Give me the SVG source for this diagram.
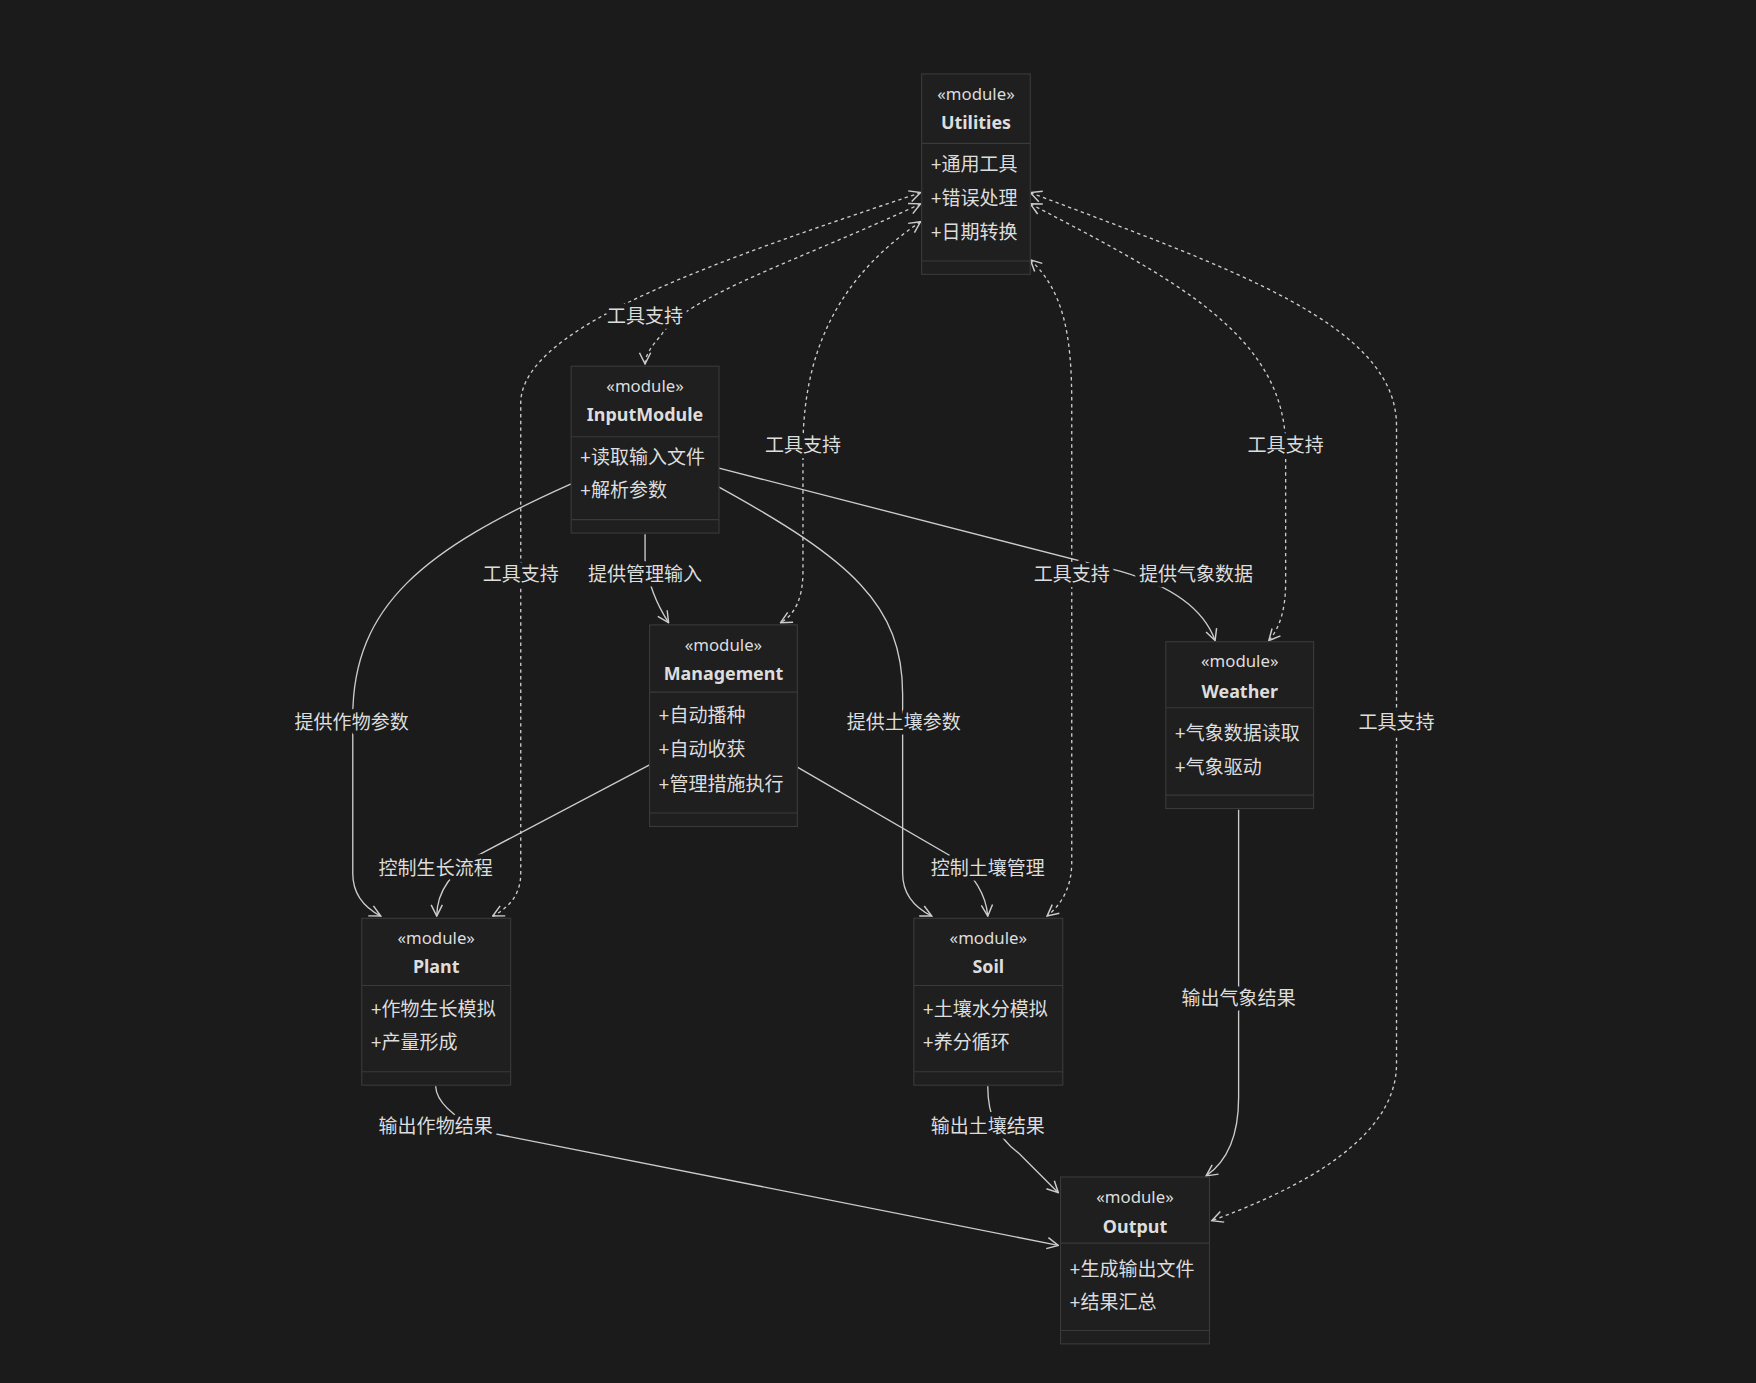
<svg xmlns="http://www.w3.org/2000/svg" width="1756" height="1383" viewBox="0 0 1756 1383">
<defs>
<style>
.bg{fill:#1b1b1b}
.box rect{fill:#1f1f1f;stroke:#3a3a3a;stroke-width:1}
.box line{stroke:#3a3a3a;stroke-width:1}
text{font-family:"Noto Sans","Noto Sans CJK SC",sans-serif;fill:#dddddd}
.st{font-size:15px;text-anchor:middle}
.ti{font-size:16px;font-weight:bold;text-anchor:middle}
.me{font-size:17px}
.e{fill:none;stroke:#cccccc;stroke-width:1.2}
.d{stroke-dasharray:3 3}
.lb{font-size:17px;text-anchor:middle;stroke:#1b1b1b;stroke-width:8;paint-order:stroke;stroke-linejoin:round}
</style>
<marker id="a" viewBox="0 0 12 12" refX="11" refY="6" markerWidth="12" markerHeight="12" orient="auto-start-reverse" markerUnits="userSpaceOnUse">
<path d="M1,1 L11,6 L1,11" fill="none" stroke="#cccccc" stroke-width="1.3"/>
</marker>
</defs>
<rect class="bg" width="1756" height="1383"/>
<g transform="scale(1.1199)">
<g id="connectors">
<path class="e d" marker-start="url(#a)" marker-end="url(#a)" d="M822,182 C720,230 610,265 590,300 Q576,315 576,325"/>
<path class="e d" marker-start="url(#a)" marker-end="url(#a)" d="M822,172 C650,230 465,290 465,360 L465,780 Q465,805 440,818"/>
<path class="e d" marker-start="url(#a)" marker-end="url(#a)" d="M822,198 C760,240 717,300 717,400 L717,510 Q717,545 697,556"/>
<path class="e d" marker-start="url(#a)" marker-end="url(#a)" d="M920,232 C950,260 957,300 957,360 L957,770 Q957,800 935,818"/>
<path class="e d" marker-start="url(#a)" marker-end="url(#a)" d="M920,182 C1050,250 1148,300 1148,400 L1148,520 Q1148,555 1133,572"/>
<path class="e d" marker-start="url(#a)" marker-end="url(#a)" d="M920,172 C1100,240 1247,290 1247,380 L1247,950 Q1247,1030 1082,1090"/>
<path class="e" marker-end="url(#a)" d="M510,432 C380,490 315,540 315,640 L315,780 Q315,805 340,818"/>
<path class="e" marker-end="url(#a)" d="M576,477 L576,500 Q580,530 597,556"/>
<path class="e" marker-end="url(#a)" d="M642,435 C760,500 806,540 806,620 L806,780 Q806,805 832,818"/>
<path class="e" marker-end="url(#a)" d="M642,418 L1000,510 Q1070,530 1085,572"/>
<path class="e" marker-end="url(#a)" d="M580,683 L430,762 Q390,785 390,818"/>
<path class="e" marker-end="url(#a)" d="M712,685 L850,765 Q880,790 882,818"/>
<path class="e" marker-end="url(#a)" d="M389,970 Q390,990 430,1010 L945,1112"/>
<path class="e" marker-end="url(#a)" d="M882,970 Q882,1010 910,1030 L945,1065"/>
<path class="e" marker-end="url(#a)" d="M1106,723 L1106,980 Q1106,1030 1077,1050"/>
<text class="lb" x="576" y="288">工具支持</text>
<text class="lb" x="465" y="519">工具支持</text>
<text class="lb" x="717" y="404">工具支持</text>
<text class="lb" x="957" y="519">工具支持</text>
<text class="lb" x="1148" y="404">工具支持</text>
<text class="lb" x="1247" y="651">工具支持</text>
<text class="lb" x="314" y="651">提供作物参数</text>
<text class="lb" x="576" y="519">提供管理输入</text>
<text class="lb" x="807" y="651">提供土壤参数</text>
<text class="lb" x="1068" y="519">提供气象数据</text>
<text class="lb" x="389" y="781">控制生长流程</text>
<text class="lb" x="882" y="781">控制土壤管理</text>
<text class="lb" x="389" y="1012">输出作物结果</text>
<text class="lb" x="882" y="1012">输出土壤结果</text>
<text class="lb" x="1106" y="897">输出气象结果</text>
</g>
<g id="Utilities" class="box">
<rect x="823" y="66" width="97" height="179"/><line x1="823" y1="128" x2="920" y2="128"/><line x1="823" y1="233" x2="920" y2="233"/>
<text class="st" x="871.5" y="89">«module»</text><text class="ti" x="871.5" y="115">Utilities</text>
<text class="me" x="831" y="153">+通用工具</text><text class="me" x="831" y="183">+错误处理</text><text class="me" x="831" y="213">+日期转换</text>
</g>
<g id="InputModule" class="box">
<rect x="510" y="327" width="132" height="149"/><line x1="510" y1="390" x2="642" y2="390"/><line x1="510" y1="464" x2="642" y2="464"/>
<text class="st" x="576" y="350">«module»</text><text class="ti" x="576" y="376">InputModule</text>
<text class="me" x="518" y="414">+读取输入文件</text><text class="me" x="518" y="444">+解析参数</text>
</g>
<g id="Management" class="box">
<rect x="580" y="558" width="132" height="180"/><line x1="580" y1="618" x2="712" y2="618"/><line x1="580" y1="726" x2="712" y2="726"/>
<text class="st" x="646" y="581">«module»</text><text class="ti" x="646" y="607">Management</text>
<text class="me" x="588" y="645">+自动播种</text><text class="me" x="588" y="675">+自动收获</text><text class="me" x="588" y="706">+管理措施执行</text>
</g>
<g id="Weather" class="box">
<rect x="1041" y="573" width="132" height="149"/><line x1="1041" y1="632" x2="1173" y2="632"/><line x1="1041" y1="710" x2="1173" y2="710"/>
<text class="st" x="1107" y="596">«module»</text><text class="ti" x="1107" y="623">Weather</text>
<text class="me" x="1049" y="661">+气象数据读取</text><text class="me" x="1049" y="691">+气象驱动</text>
</g>
<g id="Plant" class="box">
<rect x="323" y="820" width="133" height="149"/><line x1="323" y1="880" x2="456" y2="880"/><line x1="323" y1="957" x2="456" y2="957"/>
<text class="st" x="389.5" y="843">«module»</text><text class="ti" x="389.5" y="869">Plant</text>
<text class="me" x="331" y="907">+作物生长模拟</text><text class="me" x="331" y="937">+产量形成</text>
</g>
<g id="Soil" class="box">
<rect x="816" y="820" width="133" height="149"/><line x1="816" y1="880" x2="949" y2="880"/><line x1="816" y1="957" x2="949" y2="957"/>
<text class="st" x="882.5" y="843">«module»</text><text class="ti" x="882.5" y="869">Soil</text>
<text class="me" x="824" y="907">+土壤水分模拟</text><text class="me" x="824" y="937">+养分循环</text>
</g>
<g id="Output" class="box">
<rect x="947" y="1051" width="133" height="149"/><line x1="947" y1="1110" x2="1080" y2="1110"/><line x1="947" y1="1188" x2="1080" y2="1188"/>
<text class="st" x="1013.5" y="1074">«module»</text><text class="ti" x="1013.5" y="1101">Output</text>
<text class="me" x="955" y="1139">+生成输出文件</text><text class="me" x="955" y="1169">+结果汇总</text>
</g>
</g>
</svg>
